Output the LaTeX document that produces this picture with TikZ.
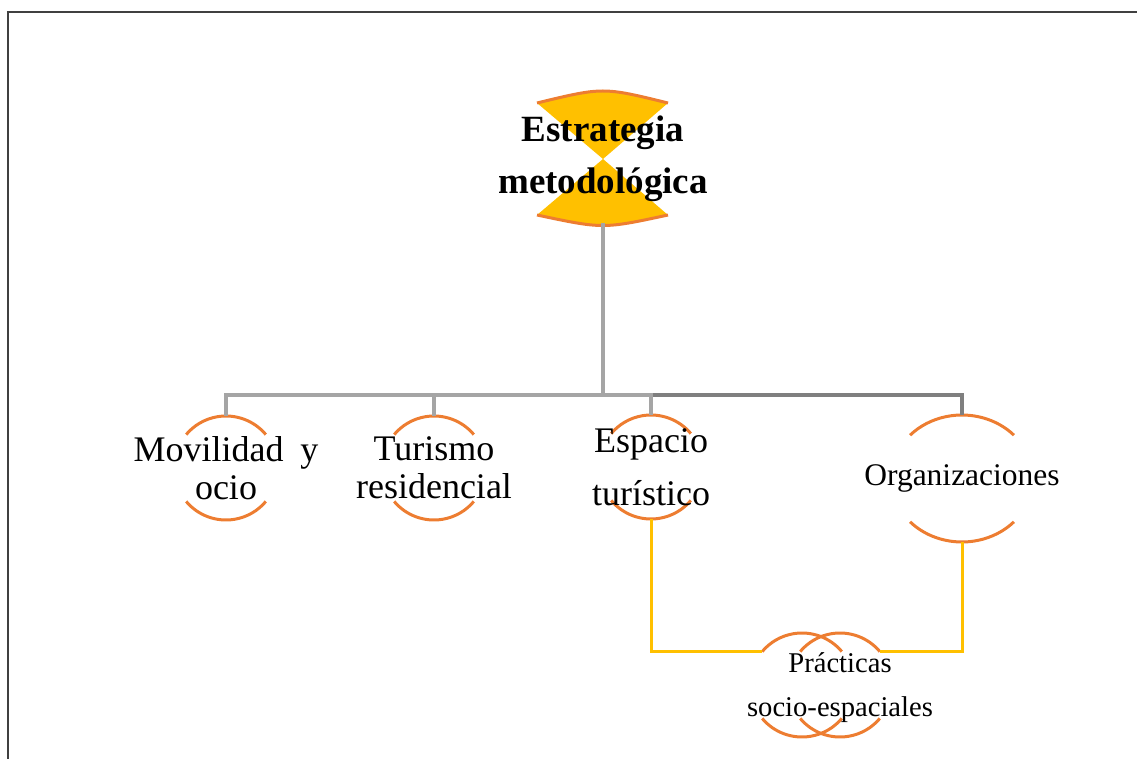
\documentclass[tikz,border=0pt]{standalone}
\usepackage{fontspec}
\setmainfont{Liberation Serif}
\usepackage{tikz}
\usetikzlibrary{calc}
\definecolor{ringorange}{HTML}{ED7D31}
\definecolor{hourgold}{HTML}{FFC000}
\definecolor{branchlight}{HTML}{A5A5A5}
\definecolor{branchdark}{HTML}{7F7F7F}
\definecolor{framegray}{HTML}{404040}

\begin{document}
\begin{tikzpicture}[x=1pt,y=1pt,
  ring/.style={draw=ringorange, line width=3pt},
  branch/.style={draw=branchlight, line width=4pt},
  branchdk/.style={draw=branchdark, line width=4pt},
  link/.style={draw=hourgold, line width=3pt},
  kid/.style={align=center, inner sep=0pt, minimum width=104pt, minimum height=104pt, font=\fontsize{36}{38}\selectfont}]
\useasboundingbox (0,0) rectangle (1137,-759);
\draw[framegray, line width=2.5pt] (8,-759) -- (8,-12);
\draw[framegray, line width=1.2pt] (6.75,-12) -- (1137,-12);

\coordinate (topc) at (603,-159);
\coordinate (movc) at (226,-468);
\coordinate (turc) at (434,-468);
\coordinate (espc) at (651,-467);
\coordinate (orgc) at (962,-478.5);
\coordinate (pra-l) at (802,-685);
\coordinate (pra-r) at (840,-685);
\coordinate (pra-w) at ($(pra-l)+(140:52)$);
\coordinate (pra-e) at ($(pra-r)+(40:52)$);

% hourglass
\fill[hourgold] (topc) -- (537,-103) .. controls (603,-87) .. (668,-103) -- cycle;
\fill[hourgold] (topc) -- (537,-215) .. controls (603,-229) .. (668,-215) -- cycle;
\draw[ring] (537,-103) .. controls (603,-87) .. (668,-103);
\draw[ring] (537,-215) .. controls (603,-229) .. (668,-215);

% rings
\foreach \c in {movc,turc,espc,pra-l,pra-r} {
  \draw[ring] ($(\c)+(40:52)$) arc[start angle=40, end angle=140, radius=52];
  \draw[ring] ($(\c)+(220:52)$) arc[start angle=220, end angle=320, radius=52];
}
\draw[ring] ($(orgc)+(43:71 and 63.5)$) arc[start angle=43, end angle=137, x radius=71, y radius=63.5];
\draw[ring] ($(orgc)+(223:71 and 63.5)$) arc[start angle=223, end angle=317, x radius=71, y radius=63.5];

\node[kid, font=\bfseries\fontsize{37}{52}\selectfont, minimum height=127pt] (top) at (topc) {Estrategia\\metodológica};
\node[kid] (mov) at (movc) {Movilidad\hspace{0.47em}y\\ocio};
\node[kid] (tur) at (turc) {Turismo\\residencial};
\node[kid, font=\fontsize{36}{53}\selectfont] (esp) at (espc) {Espacio\\turístico};
\node[kid, font=\fontsize{31.5}{36}\selectfont, minimum height=127pt] (org) at (orgc) {Organizaciones};
\node[kid, font=\fontsize{28.6}{44}\selectfont] (pra) at (840,-688) {Prácticas\\socio-espaciales};

\coordinate (hub) at (603,-395);
\draw[branchdk] (hub) -| (org.north);
\draw[branch] (top.south) -- (hub) -| (mov.north);
\draw[branch] (hub) -| (tur.north);
\draw[branch] (hub) -| (esp.north);

\draw[link] (esp.south) |- (pra-w);
\draw[link] (org.south) |- (pra-e);
\end{tikzpicture}
\end{document}
